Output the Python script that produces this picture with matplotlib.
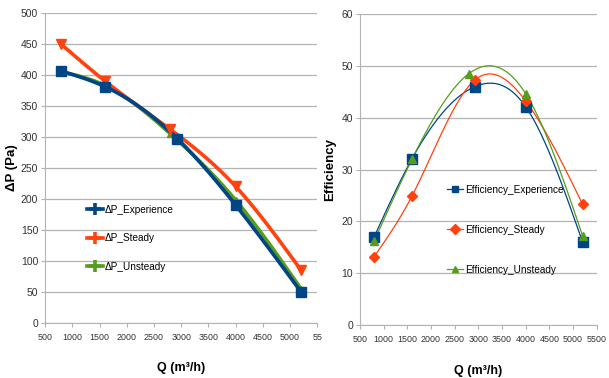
import matplotlib
matplotlib.use("Agg")
import matplotlib.pyplot as plt
import numpy as np

# flow rate (m3/h) for each series
q_exp = [800, 1600, 2930, 4000, 5200]
q_cfd = [800, 1600, 2800, 4000, 5200]

# pressure drop (Pa)
dp_experience = [406, 381, 297, 190, 50]
dp_steady = [449, 390, 312, 220, 85]
dp_unsteady = [405, 383, 305, 198, 55]

# efficiency (%)
eff_experience = [17.0, 32.1, 46.0, 42.1, 16.0]
eff_steady = [13.2, 24.9, 47.3, 43.2, 23.3]
eff_unsteady = [16.2, 32.0, 48.5, 44.6, 17.2]

x_ticks = [500, 1000, 1500, 2000, 2500, 3000, 3500, 4000, 4500, 5000, 5500]
dp_ticks = list(range(0, 501, 50))
eff_ticks = list(range(0, 61, 10))

BLUE = "#004586"
ORANGE = "#ff420e"
GREEN = "#579d1c"

plt.rcParams["font.family"] = ["Liberation Sans", "DejaVu Sans"]


def natural_spline(x, y, n=200):
    """Natural cubic spline through the points, like the office smoothing."""
    x = np.asarray(x, float)
    y = np.asarray(y, float)
    k = len(x)
    h = np.diff(x)
    A = np.zeros((k, k))
    b = np.zeros(k)
    A[0, 0] = A[-1, -1] = 1
    for i in range(1, k - 1):
        A[i, i - 1] = h[i - 1]
        A[i, i] = 2 * (h[i - 1] + h[i])
        A[i, i + 1] = h[i]
        b[i] = 6 * ((y[i + 1] - y[i]) / h[i] - (y[i] - y[i - 1]) / h[i - 1])
    m = np.linalg.solve(A, b)
    xs = np.linspace(x[0], x[-1], n)
    idx = np.clip(np.searchsorted(x, xs) - 1, 0, k - 2)
    x0, x1 = x[idx], x[idx + 1]
    hh = x1 - x0
    t0, t1 = x1 - xs, xs - x0
    ys = (m[idx] * t0 ** 3 + m[idx + 1] * t1 ** 3) / (6 * hh) \
        + (y[idx] / hh - m[idx] * hh / 6) * t0 \
        + (y[idx + 1] / hh - m[idx + 1] * hh / 6) * t1
    return xs, ys


def style_axes(ax, yticks, ylim):
    ax.set_xlim(500, 5500)
    ax.set_ylim(*ylim)
    ax.set_yticks(yticks)
    ax.set_xticks(x_ticks)
    ax.grid(axis="y", color="#b3b3b3", linewidth=0.9)
    ax.set_axisbelow(True)
    for side in ("top", "right"):
        ax.spines[side].set_visible(False)
    for side in ("left", "bottom"):
        ax.spines[side].set_color("#b3b3b3")
    ax.tick_params(colors="#b3b3b3", labelcolor="#333333", length=3, width=0.8)
    ax.tick_params(axis="x", labelsize=6.4, pad=4)
    ax.tick_params(axis="y", labelsize=7.5, pad=2)


fig = plt.figure(figsize=(6.09, 3.78), dpi=100)

# left: pressure drop
ax1 = fig.add_axes([0.074, 0.146, 0.447, 0.82])
series = [
    (q_exp, dp_experience, BLUE, "s", 7, "ΔP_Experience"),
    (q_cfd, dp_steady, ORANGE, "v", 7, "ΔP_Steady"),
    (q_cfd, dp_unsteady, GREEN, "^", 5, "ΔP_Unsteady"),
]
for q, v, c, mk, ms, lab in reversed(series):
    xs, ys = natural_spline(q, v)
    ax1.plot(xs, ys, color=c, linewidth=2.6, zorder=3)
for q, v, c, mk, ms, lab in reversed(series):
    ax1.plot(q, v, linestyle="none", marker=mk, markersize=ms, color=c, zorder=4)
handles = [plt.Line2D([], [], color=c, linewidth=2.6, marker="+", markersize=8,
                      markeredgewidth=2.6, label=lab)
           for q, v, c, mk, ms, lab in series]
ax1.legend(handles=handles, loc="upper left", bbox_to_anchor=(0.12, 0.41),
           frameon=False, fontsize=7.2, handlelength=1.6, handletextpad=0.2,
           labelspacing=1.85)
style_axes(ax1, dp_ticks, (0, 500))
ax1.set_xticklabels([str(t) for t in x_ticks[:-1]] + ["55"])
ax1.set_xlabel("Q (m³/h)", fontsize=9, fontweight="bold", labelpad=15)
ax1.set_ylabel("ΔP (Pa)", fontsize=9.5, fontweight="bold")
ax1.yaxis.set_label_coords(-0.1, 0.5)

# right: efficiency
ax2 = fig.add_axes([0.591, 0.14, 0.389, 0.823])
series = [
    (q_exp, eff_experience, BLUE, "s", 7, "Efficiency_Experience"),
    (q_exp, eff_steady, ORANGE, "D", 5, "Efficiency_Steady"),
    (q_cfd, eff_unsteady, GREEN, "^", 6, "Efficiency_Unsteady"),
]
for q, v, c, mk, ms, lab in series:
    xs, ys = natural_spline(q, v)
    ax2.plot(xs, ys, color=c, linewidth=0.9, zorder=3)
for q, v, c, mk, ms, lab in series:
    ax2.plot(q, v, linestyle="none", marker=mk, markersize=ms, color=c, zorder=4)
handles = [plt.Line2D([], [], color=c, linewidth=0.9, marker=mk, markersize=5,
                      label=lab)
           for q, v, c, mk, ms, lab in series]
ax2.legend(handles=handles, loc="upper left", bbox_to_anchor=(0.33, 0.48),
           frameon=False, fontsize=7.2, handlelength=1.6, handletextpad=0.2,
           labelspacing=3.0)
style_axes(ax2, eff_ticks, (0, 60))
ax2.set_xlabel("Q (m³/h)", fontsize=9, fontweight="bold", labelpad=15)
ax2.set_ylabel("Efficiency", fontsize=9.5, fontweight="bold")
ax2.yaxis.set_label_coords(-0.1, 0.5)

fig.savefig("out.png", dpi=100)
